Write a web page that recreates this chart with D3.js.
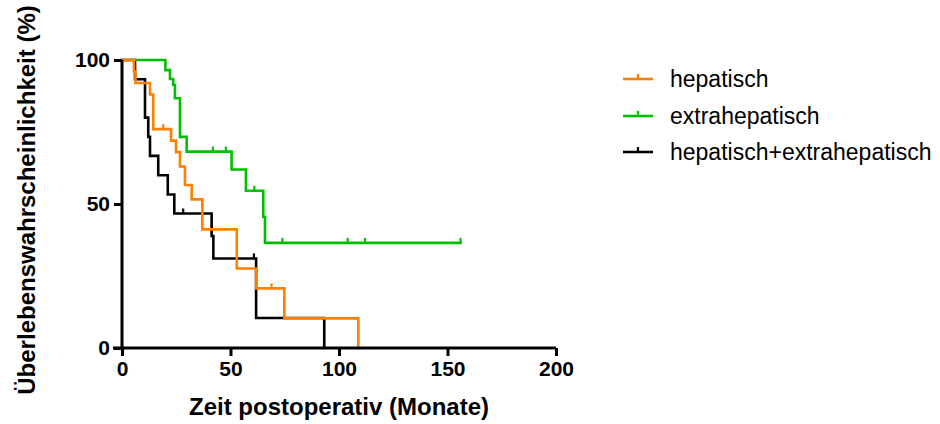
<!DOCTYPE html>
<html>
<head>
<meta charset="utf-8">
<script src="https://cdn.jsdelivr.net/npm/d3@7"></script>
<style>
  html, body { margin: 0; padding: 0; background: #fff; }
  svg { display: block; }
</style>
</head>
<body>
<svg id="chart" width="940" height="424"></svg>
<script>
// ---- Data ----
const seriesNames = ["hepatisch", "extrahepatisch", "hepatisch+extrahepatisch"];
const seriesColors = ["#FF8000", "#00C000", "#000000"];

// step events: time (months) and survival (%) after the step
const hepTimes   = [0, 5.5, 6.2, 12.9, 14.4, 22.6, 24.9, 26.7, 29.0, 32.1, 37.0, 52.9, 61.8, 74.8, 108.9];
const hepSurv    = [100, 96, 92, 88, 76, 72, 68, 63, 56.6, 51.6, 41.2, 27.6, 20.7, 10.3, 0];
const hepCensor  = [19.0, 68.9];

const extTimes   = [0, 20.0, 22.1, 23.6, 24.4, 26.7, 29.8, 50.5, 57.1, 65.1, 65.9, 156];
const extSurv    = [100, 96.5, 93.4, 91.3, 86.7, 73.3, 68.2, 62.0, 54.6, 45.5, 36.5, 36.5];
const extCensor  = [41.9, 47.9, 61.0, 73.9, 104.0, 112.0, 156];

const bothTimes  = [0, 6.0, 10.6, 12.1, 12.9, 16.7, 21.1, 24.1, 41.3, 42.1, 61.8, 93.2];
const bothSurv   = [100, 93.3, 80, 73.3, 66.7, 60, 53.3, 46.7, 38.9, 31.1, 10.4, 0];
const bothCensor = [28.2, 60.8];

const xTicks = [0, 50, 100, 150, 200];
const yTicks = [0, 50, 100];
const xTitle = "Zeit postoperativ (Monate)";
const yTitle = "Überlebenswahrscheinlichkeit (%)";

// ---- Build ----
const series = [
  {name: seriesNames[2], color: seriesColors[2], times: bothTimes, surv: bothSurv, censor: bothCensor},
  {name: seriesNames[1], color: seriesColors[1], times: extTimes, surv: extSurv, censor: extCensor},
  {name: seriesNames[0], color: seriesColors[0], times: hepTimes, surv: hepSurv, censor: hepCensor}
];

const svg = d3.select("#chart");
const x = d3.scaleLinear().domain([0, 200]).range([122, 556]);
const y = d3.scaleLinear().domain([0, 100]).range([348, 60]);

const line = d3.line()
  .x(d => x(d[0]))
  .y(d => y(d[1]))
  .curve(d3.curveStepAfter);

function survAt(s, t) {
  let v = s.surv[0];
  for (let i = 0; i < s.times.length; i++) {
    if (s.times[i] <= t) v = s.surv[i];
  }
  return v;
}

const plot = svg.append("g");
series.forEach(s => {
  const pts = s.times.map((t, i) => [t, s.surv[i]]);
  plot.append("path")
    .attr("d", line(pts))
    .attr("fill", "none")
    .attr("stroke", s.color)
    .attr("stroke-width", 2.6)
    .attr("stroke-linejoin", "miter")
    .attr("stroke-linecap", "square");
  plot.selectAll(null)
    .data(s.censor)
    .enter().append("line")
    .attr("x1", d => x(d)).attr("x2", d => x(d))
    .attr("y1", d => y(survAt(s, d)))
    .attr("y2", d => y(survAt(s, d)) - 5)
    .attr("stroke", s.color)
    .attr("stroke-width", 2.2);
});

// axes
const xAxis = d3.axisBottom(x).tickValues(xTicks).tickSize(8).tickPadding(5).tickFormat(d3.format("d"));
const yAxis = d3.axisLeft(y).tickValues(yTicks).tickSize(8).tickPadding(4).tickFormat(d3.format("d"));

const gx = svg.append("g").attr("transform", `translate(0,${y(0)})`).call(xAxis);
const gy = svg.append("g").attr("transform", `translate(${x(0)},0)`).call(yAxis);

[gx, gy].forEach(g => {
  g.select(".domain").attr("stroke", "#000").attr("stroke-width", 3);
  g.selectAll(".tick line").attr("stroke", "#000").attr("stroke-width", 3);
  g.selectAll(".tick text")
    .attr("fill", "#000")
    .style("font-family", "'Liberation Sans', Arial, sans-serif")
    .style("font-weight", "bold")
    .style("font-size", "21px");
});
gx.select(".domain").attr("d", `M${x(0) - 9},0H${x(200)}`);
gy.select(".domain").attr("d", `M0,${y(100)}V${y(0)}`);

// axis titles
svg.append("text")
  .attr("x", (x(0) + x(200)) / 2)
  .attr("y", 415)
  .attr("text-anchor", "middle")
  .style("font-family", "'Liberation Sans', Arial, sans-serif")
  .style("font-weight", "bold")
  .style("font-size", "24px")
  .text(xTitle);

svg.append("text")
  .attr("transform", `translate(35,${(y(0) + y(100)) / 2 - 4}) rotate(-90)`)
  .attr("text-anchor", "middle")
  .style("font-family", "'Liberation Sans', Arial, sans-serif")
  .style("font-weight", "bold")
  .style("font-size", "24px")
  .text(yTitle);

// legend
const legendY = [79, 116, 152];
const legendOrder = [2, 1, 0]; // hepatisch, extrahepatisch, both (index into `series`)
legendOrder.forEach((si, i) => {
  const s = series[si];
  const g = svg.append("g").attr("transform", `translate(0,${legendY[i]})`);
  g.append("line").attr("x1", 623).attr("x2", 653).attr("y1", 0).attr("y2", 0)
    .attr("stroke", s.color).attr("stroke-width", 2.6);
  g.append("line").attr("x1", 638).attr("x2", 638).attr("y1", 0).attr("y2", -5)
    .attr("stroke", s.color).attr("stroke-width", 2.2);
  g.append("text").attr("x", 670).attr("y", 0).attr("dy", "0.35em")
    .style("font-family", "'Liberation Sans', Arial, sans-serif")
    .style("font-size", "23px")
    .attr("fill", "#000")
    .text(s.name);
});
</script>
</body>
</html>
